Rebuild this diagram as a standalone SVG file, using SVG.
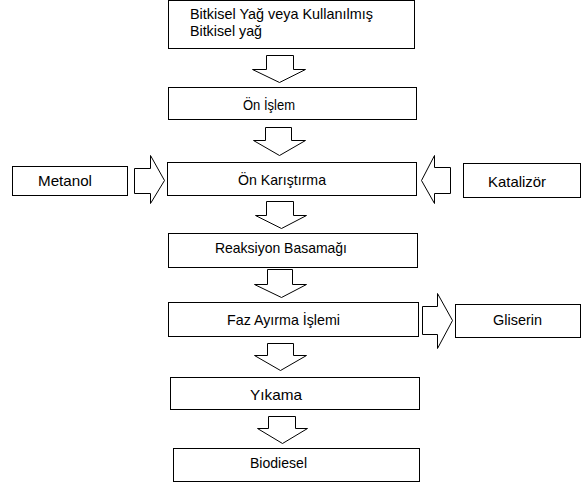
<svg xmlns="http://www.w3.org/2000/svg" width="581" height="485" viewBox="0 0 581 485">
<style>
.box{fill:#fff;stroke:#000;stroke-width:1}
.arr{fill:#fff;stroke:#000;stroke-width:1;stroke-linejoin:miter}
text{font-family:"Liberation Sans",Arial,sans-serif;font-size:15px;fill:#000}
</style>
<rect width="581" height="485" fill="#fff"/>
<g id="connectors">
<polygon class="arr" points="266.5,55.5 293.5,55.5 293.5,69.5 305.5,69.5 279.5,82.5 252.5,69.5 266.5,69.5"/>
<polygon class="arr" points="265.5,127.5 291.5,127.5 291.5,140.5 305.5,140.5 279.5,155.5 253.5,140.5 265.5,140.5"/>
<polygon class="arr" points="266.5,201.5 293.5,201.5 293.5,215.5 306.5,215.5 281.5,228.5 255.5,215.5 266.5,215.5"/>
<polygon class="arr" points="267.5,269.5 292.5,269.5 292.5,284.5 306.5,284.5 281.5,297.5 254.5,284.5 267.5,284.5"/>
<polygon class="arr" points="267.5,343.5 293.5,343.5 293.5,355.5 306.5,355.5 280.5,370.5 254.5,355.5 267.5,355.5"/>
<polygon class="arr" points="268.5,416.5 295.5,416.5 295.5,428.5 307.5,428.5 282.5,443.5 257.5,428.5 268.5,428.5"/>
<polygon class="arr" points="134.5,168.5 150.5,168.5 150.5,155.5 164.5,180.5 150.5,203.5 150.5,193.5 134.5,193.5"/>
<polygon class="arr" points="450.5,167.5 434.5,167.5 434.5,155.5 421.5,180.5 434.5,203.5 434.5,193.5 450.5,193.5"/>
<polygon class="arr" points="422.5,306.5 437.5,306.5 437.5,293.5 452.5,320.5 437.5,348.5 437.5,334.5 422.5,334.5"/>
</g>
<g id="n1"><rect class="box" x="168.5" y="0.5" width="246" height="48"/>
<text x="190" y="19" textLength="183" lengthAdjust="spacingAndGlyphs">Bitkisel Yağ veya Kullanılmış</text>
<text x="190" y="36" textLength="72" lengthAdjust="spacingAndGlyphs">Bitkisel yağ</text></g>
<g id="n2"><rect class="box" x="168.5" y="87.5" width="248" height="32"/>
<text x="243" y="110" textLength="52" lengthAdjust="spacingAndGlyphs">Ön İşlem</text></g>
<g id="n3"><rect class="box" x="167.5" y="162.5" width="249" height="33"/>
<text x="238" y="185" textLength="88" lengthAdjust="spacingAndGlyphs">Ön Karıştırma</text></g>
<g id="metanol"><rect class="box" x="12.5" y="166.5" width="115" height="29"/>
<text x="38" y="186" textLength="54" lengthAdjust="spacingAndGlyphs">Metanol</text></g>
<g id="katalizor"><rect class="box" x="463.5" y="163.5" width="117" height="34"/>
<text x="488" y="187" textLength="58" lengthAdjust="spacingAndGlyphs">Katalizör</text></g>
<g id="n4"><rect class="box" x="168.5" y="233.5" width="249" height="34"/>
<text x="215" y="253" textLength="132" lengthAdjust="spacingAndGlyphs">Reaksiyon Basamağı</text></g>
<g id="n5"><rect class="box" x="168.5" y="302.5" width="250" height="34"/>
<text x="227" y="325" textLength="113" lengthAdjust="spacingAndGlyphs">Faz Ayırma İşlemi</text></g>
<g id="gliserin"><rect class="box" x="455.5" y="304.5" width="125" height="33"/>
<text x="493" y="325" textLength="49" lengthAdjust="spacingAndGlyphs">Gliserin</text></g>
<g id="n6"><rect class="box" x="170.5" y="377.5" width="249" height="32"/>
<text x="250" y="400" textLength="52" lengthAdjust="spacingAndGlyphs">Yıkama</text></g>
<g id="n7"><rect class="box" x="173.5" y="448.5" width="246" height="33"/>
<text x="250" y="468" textLength="57" lengthAdjust="spacingAndGlyphs">Biodiesel</text></g>
</svg>
